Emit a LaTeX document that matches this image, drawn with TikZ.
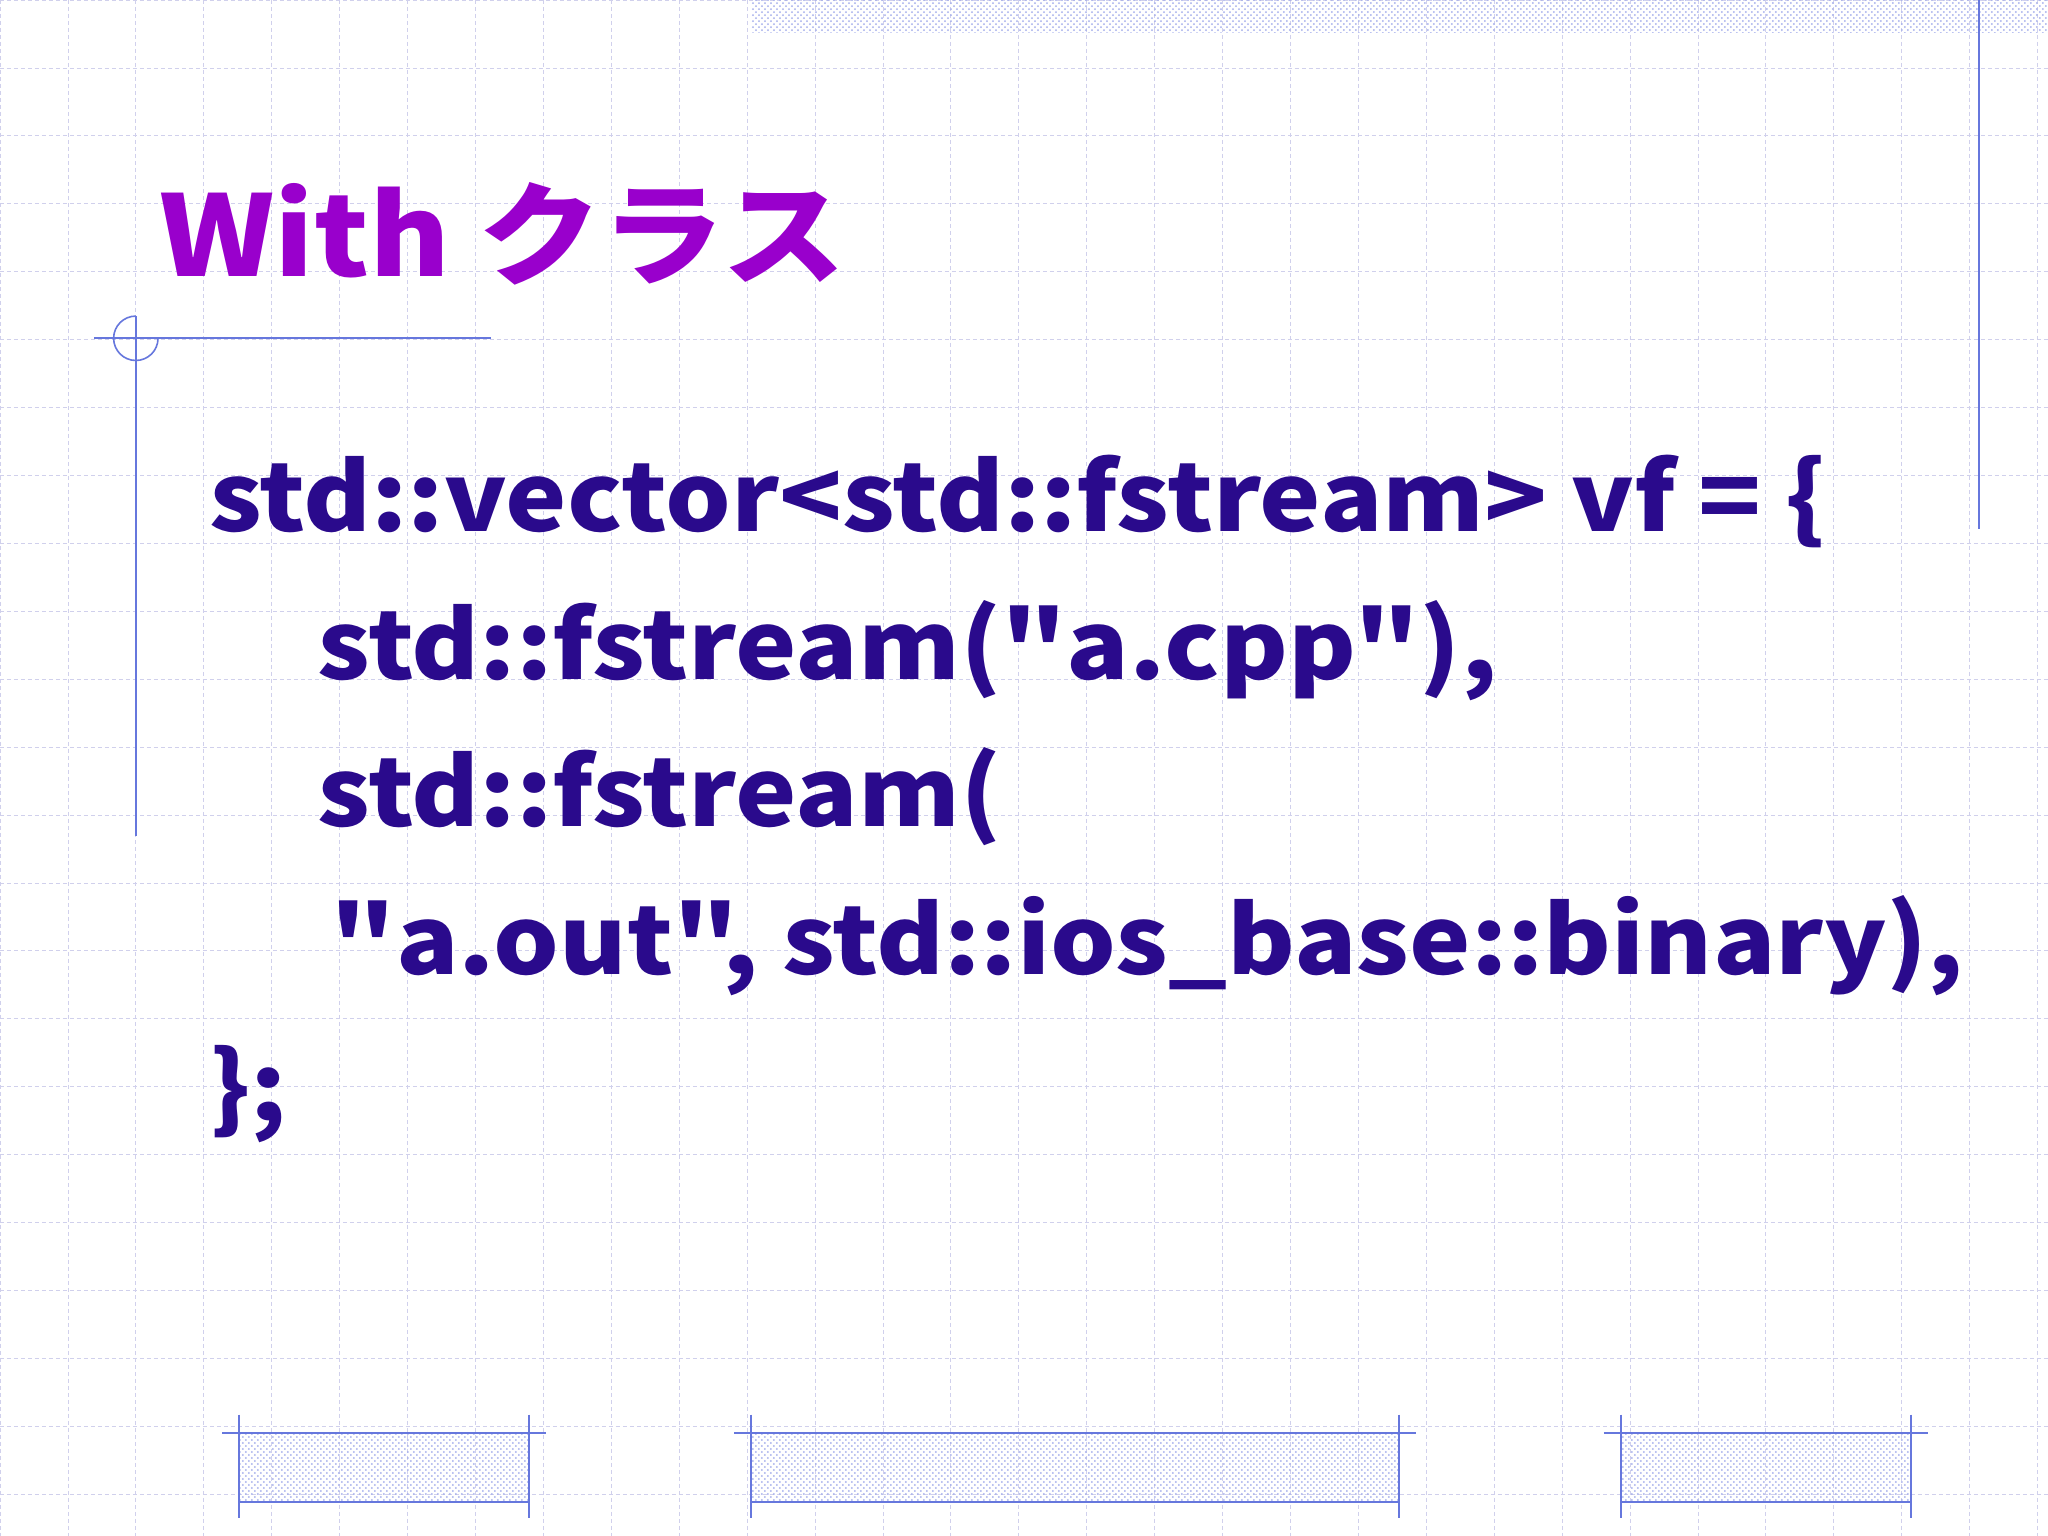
\documentclass[tikz,border=0pt]{standalone}
\usepackage{fontspec}
\setmainfont{Noto Sans CJK JP}[FakeStretch=1.1,Ligatures=TeXOff]
\usetikzlibrary{patterns}
\definecolor{gridc}{HTML}{D0D0EC}
\definecolor{linec}{HTML}{6677DD}
\definecolor{codec}{HTML}{2A0A8C}
\definecolor{titlec}{HTML}{9900CC}
\tikzset{deco/.style={draw=linec,line width=0.8pt},
hatch/.style={pattern=crosshatch dots,pattern color=linec!60},
code/.style={anchor=base west,inner sep=0pt,text=codec,font=\bfseries\fontsize{47}{50}\selectfont}}
\begin{document}
\begin{tikzpicture}[x=0.6531pt,y=-0.6531pt]
\useasboundingbox (0,0) rectangle (1568,1176);
\fill[white] (0,0) rectangle (1568,1176);
\foreach \i in {0,52,...,1568} \draw[gridc,line width=0.4pt,dash pattern=on 2pt off 1.5pt] (\i,0) -- (\i,1176);
\foreach \j in {0,52,...,1176} \draw[gridc,line width=0.4pt,dash pattern=on 2pt off 1.5pt] (0,\j) -- (1568,\j);
\fill[hatch] (575,0) rectangle (1568,25);
\draw[deco] (1515,0) -- (1515,405);
\draw[deco] (72,259) -- (376,259);
\draw[deco] (104,242) -- (104,640);
\coordinate (cc) at (104,259);
\draw[deco] (cc) ++(0,-17) arc[start angle=-90,end angle=-360,radius=17];
\foreach \a/\b in {183/405,575/1071,1241/1463}{
 \fill[hatch] (\a,1097) rectangle (\b,1150);
 \draw[deco] (\a-13,1097) -- (\b+13,1097);
 \draw[deco] (\a,1150) -- (\b,1150);
 \draw[deco] (\a,1083) -- (\a,1162);
 \draw[deco] (\b,1083) -- (\b,1162);
}
\node[anchor=base west,inner sep=0pt,text=titlec,font=\bfseries\fontsize{56}{60}\selectfont] (title) at (122,212) {With クラス};
\node[code] (l1) at (160,407) {std::vector<std::fstream> vf = \{};
\node[code] (l2) at (243,520) {std::fstream("a.cpp"),};
\node[code] (l3) at (243,633) {std::fstream(};
\node[code] (l4) at (253,746) {"a.out", std::ios\_base::binary),};
\node[code] (l5) at (160,859) {\};};
\end{tikzpicture}
\end{document}
